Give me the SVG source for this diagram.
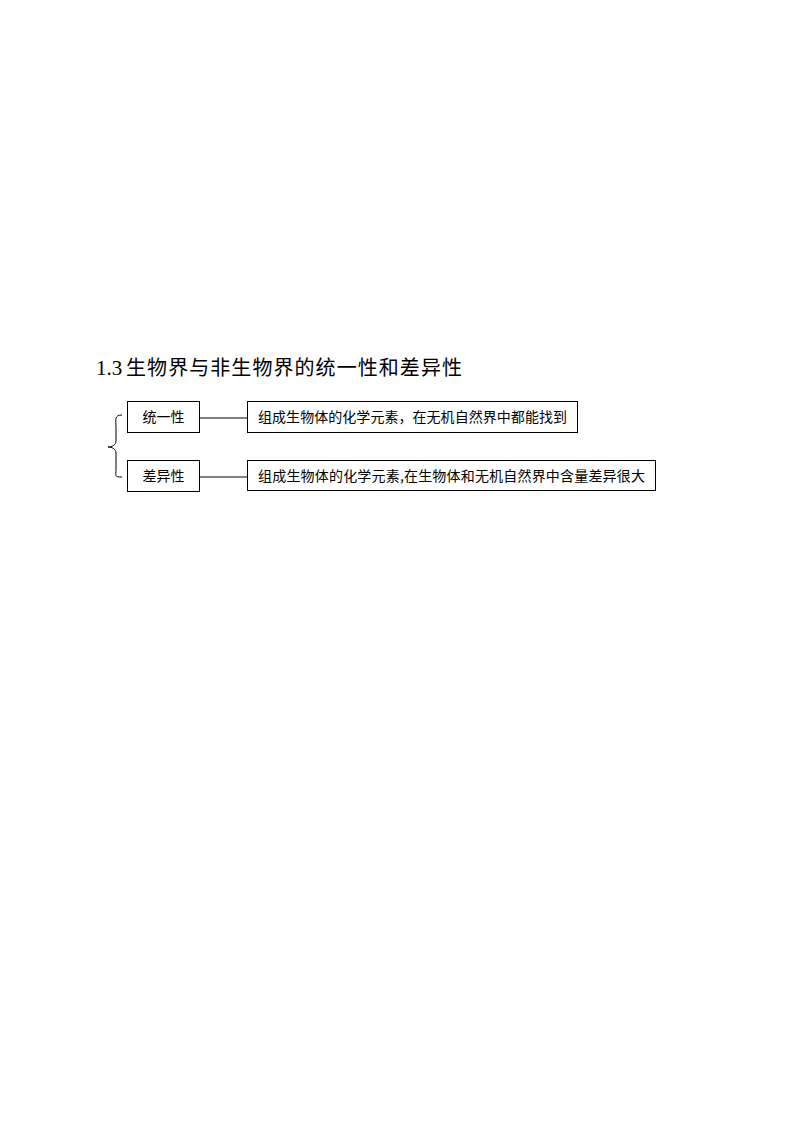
<svg xmlns="http://www.w3.org/2000/svg" width="794" height="1123" viewBox="0 0 794 1123">
<style>
.box{fill:#fff;stroke:#000;stroke-width:1}
.t{font-family:"Noto Sans CJK SC","Liberation Sans",sans-serif;font-size:14px;fill:#000}
.ln{stroke:#000;stroke-width:1;fill:none}
</style>
<rect width="794" height="1123" fill="#fff"/>
<g id="title">
<text x="96" y="375" font-family="'Liberation Serif',serif" font-size="21" fill="#000">1.3</text>
<text x="126" y="375" font-family="'Noto Sans CJK SC',sans-serif" font-size="20" fill="#000" textLength="336" lengthAdjust="spacing">生物界与非生物界的统一性和差异性</text>
</g>
<g id="connectors">
<path class="ln" d="M122,415 C114,415 116,420 116,428 L116,441 C116,445 112,447 108,447 C112,447 116,449 116,453 L116,469 C116,476 114,477 122,477"/>
<line class="ln" x1="199" y1="418" x2="247" y2="418"/>
<line class="ln" x1="199" y1="477" x2="247" y2="477"/>
</g>
<g id="n1">
<rect class="box" x="127.5" y="401.5" width="72" height="31"/>
<text class="t" x="163.5" y="422" text-anchor="middle">统一性</text>
</g>
<g id="n2">
<rect class="box" x="127.5" y="460.5" width="72" height="31"/>
<text class="t" x="163.5" y="481" text-anchor="middle">差异性</text>
</g>
<g id="n3">
<rect class="box" x="247.5" y="401.5" width="330" height="31"/>
<text class="t" x="258" y="422" textLength="309" lengthAdjust="spacing">组成生物体的化学元素，在无机自然界中都能找到</text>
</g>
<g id="n4">
<rect class="box" x="247.5" y="460.5" width="408" height="30"/>
<text class="t" x="258" y="481" textLength="387" lengthAdjust="spacing">组成生物体的化学元素,在生物体和无机自然界中含量差异很大</text>
</g>
</svg>
